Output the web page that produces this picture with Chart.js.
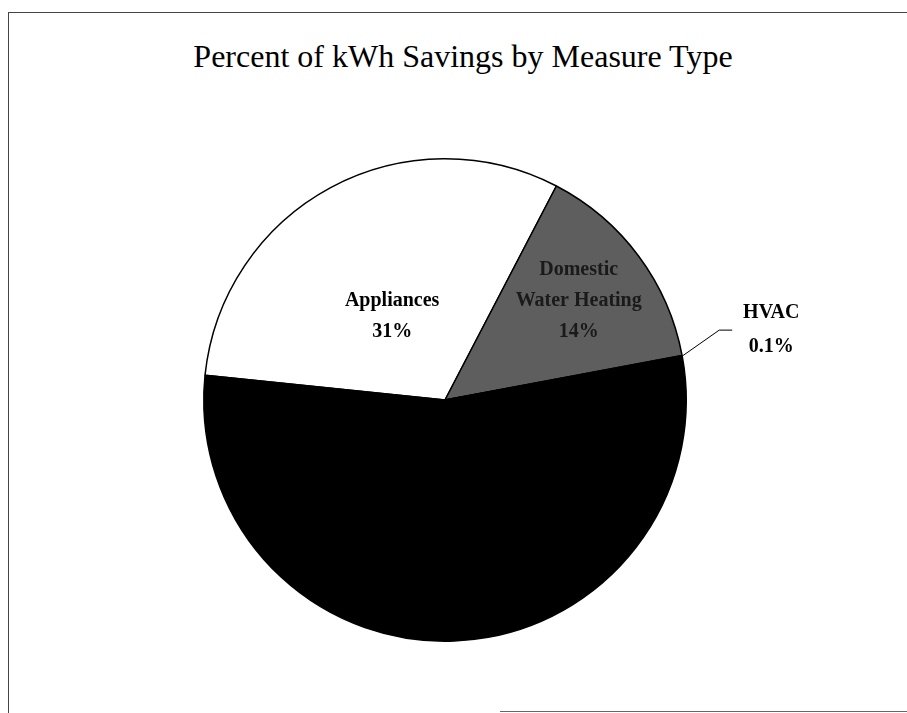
<!DOCTYPE html>
<html lang="en">
<head>
    <meta charset="UTF-8">
    <title>Percent of kWh Savings by Measure Type</title>
    <script src="https://cdn.jsdelivr.net/npm/chart.js"></script>
    <style>
        html, body { margin: 0; padding: 0; background: #fff; }
        #wrap { position: relative; width: 907px; height: 713px; overflow: hidden; }
        #frame {
            position: absolute; left: 8px; top: 12px; width: 905px; height: 710px;
            border-left: 1px solid #444; border-top: 1px solid #444;
        }
        #bottomLine { position: absolute; left: 500px; top: 711px; width: 407px; height: 1px; background: #666; }
        #title {
            position: absolute; left: 0; top: 38px; width: 926px; text-align: center;
            font-family: "Liberation Serif", serif; font-size: 32px; color: #000;
        }
        #chart { position: absolute; left: 0; top: 0; }
    </style>
</head>
<body>
<div id="wrap">
    <div id="frame"></div>
    <div id="bottomLine"></div>
    <div id="title">Percent of kWh Savings by Measure Type</div>
    <canvas id="chart" width="907" height="713"></canvas>
</div>
<script>
    // data
    const categories = ['Appliances', 'Domestic\nWater Heating', 'HVAC', 'Lighting'];
    const percentValues = [31, 14.4, 0.1, 54.5];
    const sliceColors = ['#ffffff', '#5e5e5e', '#000000', '#000000'];
    const labelColors = ['#000000', '#1a1a1a', '#000000', '#000000'];

    function pctText(v) {
        return (v < 1 ? v.toFixed(1) : Math.round(v)) + '%';
    }

    // label placement per slice: distance (fraction of radius) and angle shift from mid angle
    const labelPlace = [
        { dist: 0.41, shift: -4 },
        { dist: 0.69, shift: 0 },
        { outside: true },
        { dist: 0.5, shift: 0 }
    ];

    const sliceLabels = {
        id: 'sliceLabels',
        afterDatasetsDraw(chart) {
            const ctx = chart.ctx;
            const arcs = chart.getDatasetMeta(0).data;
            ctx.save();
            ctx.font = 'bold 20px "Liberation Serif", serif';
            ctx.textAlign = 'center';
            ctx.textBaseline = 'middle';
            arcs.forEach((arc, i) => {
                const p = arc.getProps(['x', 'y', 'startAngle', 'endAngle', 'outerRadius'], true);
                const mid = (p.startAngle + p.endAngle) / 2;
                const lines = categories[i].split('\n').concat([pctText(percentValues[i])]);
                ctx.fillStyle = labelColors[i];
                const place = labelPlace[i];
                if (place.outside) {
                    // leader line from the rim
                    const ex = p.x + Math.cos(mid) * p.outerRadius;
                    const ey = p.y + Math.sin(mid) * p.outerRadius;
                    ctx.strokeStyle = '#000';
                    ctx.lineWidth = 1;
                    ctx.beginPath();
                    ctx.moveTo(ex, ey);
                    ctx.lineTo(ex + 37, ey - 26);
                    ctx.lineTo(ex + 50, ey - 26);
                    ctx.stroke();
                    const lx = ex + 89, ly = ey - 26;
                    ctx.fillText(lines[0], lx, ly - 17);
                    ctx.fillText(lines[1], lx, ly + 17);
                } else {
                    const a = mid + place.shift * Math.PI / 180;
                    const cx = p.x + Math.cos(a) * p.outerRadius * place.dist;
                    const cy = p.y + Math.sin(a) * p.outerRadius * place.dist;
                    const lh = 31;
                    const y0 = cy - (lines.length - 1) * lh / 2;
                    lines.forEach((t, k) => ctx.fillText(t, cx, y0 + k * lh));
                }
            });
            ctx.restore();
        }
    };

    new Chart(document.getElementById('chart').getContext('2d'), {
        type: 'pie',
        data: {
            labels: categories,
            datasets: [{
                data: percentValues,
                backgroundColor: sliceColors,
                borderColor: '#000000',
                borderWidth: 1.5
            }]
        },
        options: {
            responsive: false,
            animation: false,
            rotation: -84.1,
            layout: { padding: { top: 158, bottom: 71, left: 203, right: 220 } },
            plugins: {
                legend: { display: false },
                tooltip: { enabled: false },
                title: { display: false }
            }
        },
        plugins: [sliceLabels]
    });
</script>
</body>
</html>
